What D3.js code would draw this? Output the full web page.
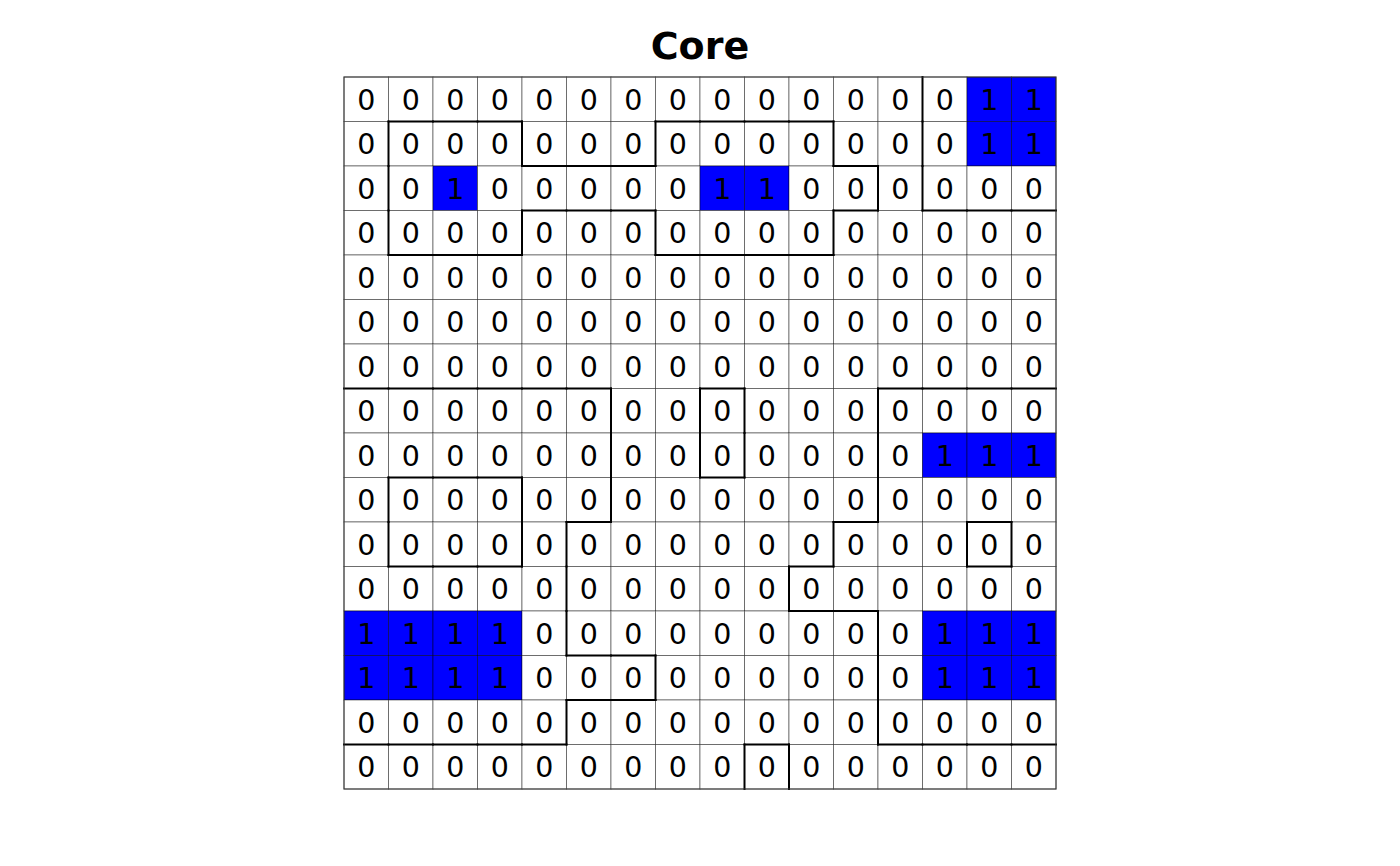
<!DOCTYPE html>
<html>
<head>
<meta charset="utf-8">
<script src="https://cdn.jsdelivr.net/npm/d3@7"></script>
<style>
  html, body { margin: 0; padding: 0; background: #fff; }
  svg { display: block; }
</style>
</head>
<body>
<svg id="chart" width="1400" height="866"></svg>
<script>
// ---- data ----
const title = "Core";
const rowIndex = d3.range(16);
const colIndex = d3.range(16);
// cell values (row 0 = top)
const values = [
  [0,0,0,0,0,0,0,0,0,0,0,0,0,0,1,1],
  [0,0,0,0,0,0,0,0,0,0,0,0,0,0,1,1],
  [0,0,1,0,0,0,0,0,1,1,0,0,0,0,0,0],
  [0,0,0,0,0,0,0,0,0,0,0,0,0,0,0,0],
  [0,0,0,0,0,0,0,0,0,0,0,0,0,0,0,0],
  [0,0,0,0,0,0,0,0,0,0,0,0,0,0,0,0],
  [0,0,0,0,0,0,0,0,0,0,0,0,0,0,0,0],
  [0,0,0,0,0,0,0,0,0,0,0,0,0,0,0,0],
  [0,0,0,0,0,0,0,0,0,0,0,0,0,1,1,1],
  [0,0,0,0,0,0,0,0,0,0,0,0,0,0,0,0],
  [0,0,0,0,0,0,0,0,0,0,0,0,0,0,0,0],
  [0,0,0,0,0,0,0,0,0,0,0,0,0,0,0,0],
  [1,1,1,1,0,0,0,0,0,0,0,0,0,1,1,1],
  [1,1,1,1,0,0,0,0,0,0,0,0,0,1,1,1],
  [0,0,0,0,0,0,0,0,0,0,0,0,0,0,0,0],
  [0,0,0,0,0,0,0,0,0,0,0,0,0,0,0,0]
];
// patch / zone membership used for the thick outlines
const zones = [
  "OOOOOOOOOOOOOBBB",
  "OAAAOOOAAAAOOBBB",
  "OAAAAAAAAAAAOBBB",
  "OAAAOOOAAAAOOOOO",
  "OOOOOOOOOOOOOOOO",
  "OOOOOOOOOOOOOOOO",
  "OOOOOOOOOOOOOOOO",
  "CCCCCCOOFOOOGGGG",
  "CCCCCCOOFOOOGGGG",
  "CDDDCCOOOOOOGGGG",
  "CDDDCOOOOOOGGGHG",
  "CCCCCOOOOOGGGGGG",
  "CCCCCOOOOOOOGGGG",
  "CCCCCCCOOOOOGGGG",
  "CCCCCOOOOOOOGGGG",
  "OOOOOOOOOEOOOOOO"
];
const fillColors = ["#ffffff", "#0000ff"];

// ---- drawing ----
const svg = d3.select("#chart");
const x = d3.scaleBand().domain(colIndex).range([344, 1056]).padding(0);
const y = d3.scaleBand().domain(rowIndex).range([77, 789]).padding(0);
const color = d3.scaleOrdinal().domain([0, 1]).range(fillColors);
const bw = x.bandwidth(), bh = y.bandwidth();

const cells = [];
rowIndex.forEach(r => colIndex.forEach(c => cells.push({r, c, v: values[r][c], z: zones[r][c]})));

svg.append("text")
  .attr("x", 700).attr("y", 58.5)
  .attr("text-anchor", "middle")
  .attr("font-family", "DejaVu Sans")
  .attr("font-weight", "bold")
  .attr("font-size", 38)
  .text(title);

// tiles
svg.append("g").selectAll("rect").data(cells).join("rect")
  .attr("x", d => x(d.c)).attr("y", d => y(d.r))
  .attr("width", bw).attr("height", bh)
  .attr("fill", d => color(d.v))
  .attr("stroke", "#000").attr("stroke-opacity", 0.45).attr("stroke-width", 1);

// labels
svg.append("g").selectAll("text").data(cells).join("text")
  .attr("x", d => x(d.c) + bw / 2)
  .attr("y", d => y(d.r) + bh / 2 + 10.3)
  .attr("text-anchor", "middle")
  .attr("font-family", "DejaVu Sans")
  .attr("font-size", 28.5)
  .attr("fill", "#000")
  .text(d => d.v);

// zone outlines
const segs = [];
cells.forEach(d => {
  if (d.c < 15 && zones[d.r][d.c + 1] !== d.z)
    segs.push([x(d.c) + bw, y(d.r), x(d.c) + bw, y(d.r) + bh]);
  if (d.r < 15 && zones[d.r + 1][d.c] !== d.z)
    segs.push([x(d.c), y(d.r) + bh, x(d.c) + bw, y(d.r) + bh]);
});
svg.append("g").selectAll("line").data(segs).join("line")
  .attr("x1", s => s[0]).attr("y1", s => s[1])
  .attr("x2", s => s[2]).attr("y2", s => s[3])
  .attr("stroke", "#000").attr("stroke-width", 2)
  .attr("stroke-linecap", "square");

// panel border
svg.append("rect")
  .attr("x", x(0)).attr("y", y(0))
  .attr("width", x.range()[1] - x.range()[0])
  .attr("height", y.range()[1] - y.range()[0])
  .attr("fill", "none").attr("stroke", "#333").attr("stroke-width", 1);
</script>
</body>
</html>
